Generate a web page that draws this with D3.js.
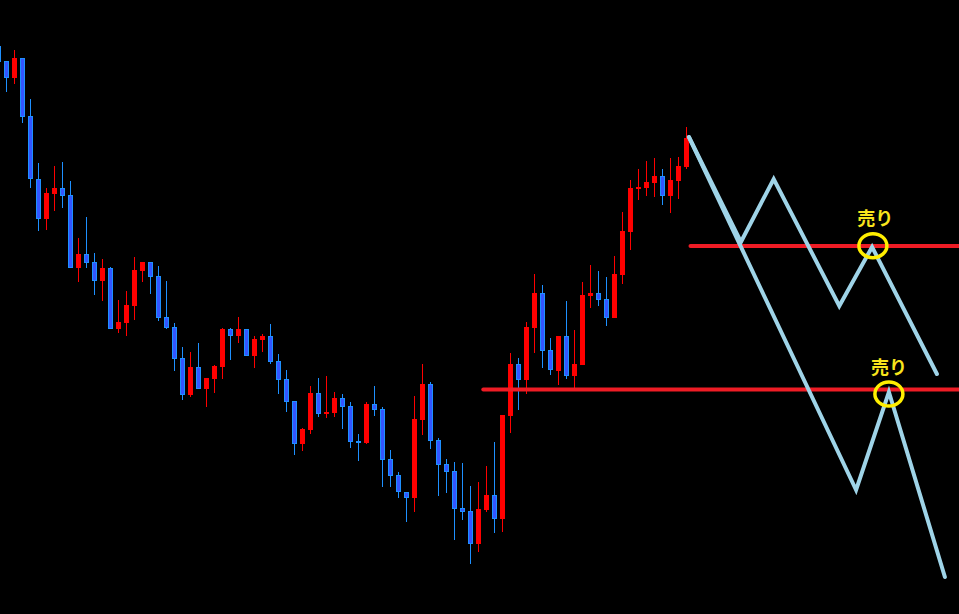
<!DOCTYPE html>
<html><head><meta charset="utf-8">
<script src="https://cdn.jsdelivr.net/npm/d3@7"></script>
<style>html,body{margin:0;padding:0;background:#000;overflow:hidden}</style>
</head><body>
<svg id="chart" width="959" height="614"></svg>
<script>
// candle data: [open, high, low, close] in price points
const opens  = [554,539,522,542,484,421,381,406,412,405,332,346,338,319,332,271,277,294,329,338,324,283,273,242,205,233,211,221,233,271,264,271,244,260,264,239,221,199,156,170,207,186,187,202,194,159,157,196,191,141,125,108,102,180,216,160,136,129,92,89,56,90,105,81,184,236,220,272,307,250,229,264,224,235,304,307,301,282,325,368,411,412,417,424,404,419,433];
const highs  = [555,539,550,542,501,437,412,434,438,419,362,383,347,341,333,300,309,343,338,338,334,319,277,253,248,257,222,235,272,272,283,271,264,266,276,246,230,199,172,214,222,224,208,206,198,166,198,214,193,150,128,108,204,236,218,162,141,138,137,114,118,134,158,185,247,242,278,326,315,262,264,299,270,318,335,329,323,344,388,420,431,439,442,431,442,443,473];
const lows   = [538,508,516,477,412,369,370,389,392,332,318,332,305,299,271,267,264,280,318,306,279,271,229,200,203,211,193,207,221,240,257,244,232,248,236,206,188,145,149,166,183,182,183,171,152,139,156,184,113,113,102,78,88,165,151,104,107,60,80,36,48,88,67,68,167,190,206,247,232,225,215,221,210,235,292,294,274,282,316,350,400,404,403,395,387,401,431];
const closes = [538,522,542,483,421,381,407,412,404,332,346,337,319,332,271,278,295,330,338,323,282,272,241,205,233,211,222,234,271,264,271,244,261,264,238,220,198,156,171,207,186,188,202,193,158,157,196,190,140,124,108,102,181,216,159,135,128,91,88,56,91,105,81,185,236,220,273,307,249,230,264,224,236,305,307,300,282,326,369,412,413,418,424,404,420,434,462];

// projection zigzags: [candle index, price]
const pathAIdx = [86.3, 92.8, 96.9, 105.1, 109.2, 117.3];
const pathAVal = [463, 358, 421, 294, 353, 226];
const pathBIdx = [86.3, 107.2, 111.3, 118.3];
const pathBVal = [463, 110, 208, 23];

// horizontal resistance lines: [start index, price]
const levelStart = [86.5, 60.6];
const levelValue = [354, 210.5];

// sell marks
const markIdx = [109.3, 111.3];
const markVal = [354.3, 206];
const labelText = ["売り", "売り"];
const labelIdx = [109.6, 111.3];
const labelVal = [375, 226];

const W = 959, H = 614;
const svg = d3.select("#chart");
svg.append("rect").attr("width", W).attr("height", H).attr("fill", "#000");

const x = d3.scaleLinear().domain([0, 86]).range([-1.5, 686.5]);
const y = d3.scaleLinear().domain([0, 600]).range([600, 0]);

const candles = opens.map((o, i) => ({i, o, h: highs[i], l: lows[i], c: closes[i], up: closes[i] >= o}));

const g = svg.append("g");
// wicks
g.selectAll("line.wick").data(candles).join("line")
  .attr("x1", d => x(d.i)).attr("x2", d => x(d.i))
  .attr("y1", d => y(d.h)).attr("y2", d => y(d.l))
  .attr("stroke", d => d.up ? "#ff0000" : "#1e90ff")
  .attr("stroke-width", 1);
// bodies
g.selectAll("rect.body").data(candles).join("rect")
  .attr("x", d => d.up ? x(d.i) - 2.5 : x(d.i) - 2)
  .attr("width", d => d.up ? 5 : 4)
  .attr("y", d => d.up ? y(Math.max(d.o, d.c)) : y(Math.max(d.o, d.c)) + 0.5)
  .attr("height", d => d.up ? Math.max(1, Math.abs(d.c - d.o)) : Math.max(1, Math.abs(d.c - d.o) - 1))
  .attr("fill", d => d.up ? "#ff0000" : "#3355ff")
  .attr("stroke", d => d.up ? "none" : "#1e90ff")
  .attr("stroke-width", 1);

// resistance lines
svg.selectAll("line.level").data(levelValue).join("line")
  .attr("x1", (v, i) => x(levelStart[i])).attr("x2", W + 5)
  .attr("y1", v => y(v)).attr("y2", v => y(v))
  .attr("stroke", "#ee1c25").attr("stroke-width", 4).attr("stroke-linecap", "round");

// zigzag projections
const line = d3.line().x(d => x(d[0])).y(d => y(d[1]));
[[pathAIdx, pathAVal], [pathBIdx, pathBVal]].forEach(([xi, yv]) => {
  svg.append("path")
    .attr("d", line(xi.map((v, k) => [v, yv[k]])))
    .attr("fill", "none").attr("stroke", "#9fd4e8").attr("stroke-width", 4)
    .attr("stroke-linejoin", "miter").attr("stroke-linecap", "round");
});

// sell circles
svg.selectAll("ellipse.mark").data(markVal).join("ellipse")
  .attr("cx", (v, i) => x(markIdx[i])).attr("cy", v => y(v))
  .attr("rx", 14).attr("ry", 12)
  .attr("fill", "none").attr("stroke", "#ffee00").attr("stroke-width", 3.5);

// labels
svg.selectAll("text.lbl").data(labelText).join("text")
  .attr("x", (t, i) => x(labelIdx[i])).attr("y", (t, i) => y(labelVal[i]))
  .attr("text-anchor", "middle")
  .attr("font-family", "'Noto Sans CJK JP', sans-serif")
  .attr("font-weight", "bold").attr("font-size", 18)
  .attr("fill", "#f8e51c")
  .text(t => t);
</script>
</body></html>
